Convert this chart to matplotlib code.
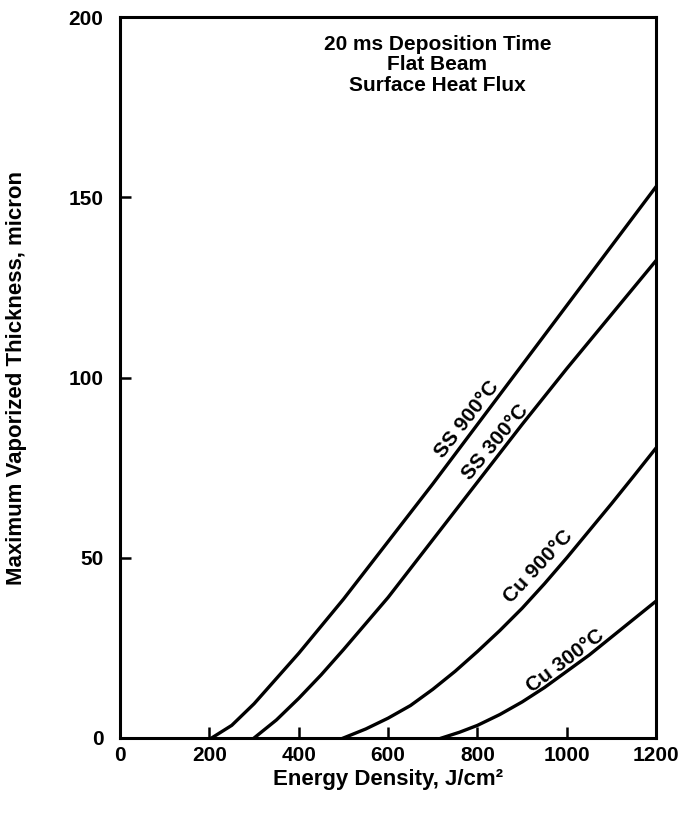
import matplotlib
matplotlib.use("Agg")
import matplotlib.pyplot as plt

plt.rcParams['font.family'] = ['Liberation Sans', 'DejaVu Sans']
plt.rcParams['font.weight'] = 'bold'

# Data (Energy density J/cm^2 -> thickness micron)
ss900_x = [205, 250, 300, 350, 400, 450, 500, 600, 700, 800, 900, 1000, 1100, 1200]
ss900_y = [0, 3.5, 9.5, 16.5, 23.5, 31, 38.5, 54.5, 70.5, 87, 103.5, 120, 136.5, 153]
ss300_x = [300, 350, 400, 450, 500, 600, 700, 800, 900, 1000, 1100, 1200]
ss300_y = [0, 5, 11, 17.5, 24.5, 39, 55, 71, 87, 102.5, 117.5, 132.5]
cu900_x = [500, 550, 600, 650, 700, 750, 800, 850, 900, 950, 1000, 1050, 1100, 1150, 1200]
cu900_y = [0, 2.5, 5.5, 9, 13.5, 18.5, 24, 29.8, 36, 42.8, 50, 57.5, 65, 72.7, 80.5]
cu300_x = [720, 760, 800, 850, 900, 950, 1000, 1050, 1100, 1150, 1200]
cu300_y = [0, 1.6, 3.5, 6.5, 10, 14, 18.5, 23, 28, 33, 38]

labels = ["SS 900°C", "SS 300°C", "Cu 900°C", "Cu 300°C"]
label_pos = [(777, 88.5), (839, 82), (936, 47.5), (996, 21.5)]
label_rot = [52, 50, 47, 37]

xticks = [0, 200, 400, 600, 800, 1000, 1200]
yticks = [0, 50, 100, 150, 200]

title_lines = "20 ms Deposition Time\nFlat Beam\nSurface Heat Flux"

fig = plt.figure(figsize=(6.9, 8.14), dpi=100)
ax = fig.add_axes([0.174, 0.0934, 0.777, 0.8856])

for xs, ys in [(ss900_x, ss900_y), (ss300_x, ss300_y), (cu900_x, cu900_y), (cu300_x, cu300_y)]:
    ax.plot(xs, ys, color='black', lw=2.4, solid_joinstyle='round')

for lab, (px, py), rot in zip(labels, label_pos, label_rot):
    ax.text(px, py, lab, rotation=rot, rotation_mode='anchor', ha='center', va='center',
            fontsize=15, fontweight='bold')

ax.text(710, 195, title_lines, ha='center', va='top', fontsize=15, fontweight='bold',
        linespacing=1.08)

ax.set_xlim(0, 1200)
ax.set_ylim(0, 200)
ax.set_xticks(xticks)
ax.set_yticks(yticks)
ax.tick_params(direction='in', length=8, width=1.8, labelsize=15, pad=6)
ax.tick_params(axis='y', pad=12)
for lbl in ax.get_xticklabels() + ax.get_yticklabels():
    lbl.set_fontweight('bold')
for s in ax.spines.values():
    s.set_linewidth(2.2)

ax.set_xlabel("Energy Density, J/cm²", fontsize=16, fontweight='bold', labelpad=3)
ax.set_ylabel("Maximum Vaporized Thickness, micron", fontsize=16, fontweight='bold', labelpad=30)

fig.savefig("out.png", dpi=100)
